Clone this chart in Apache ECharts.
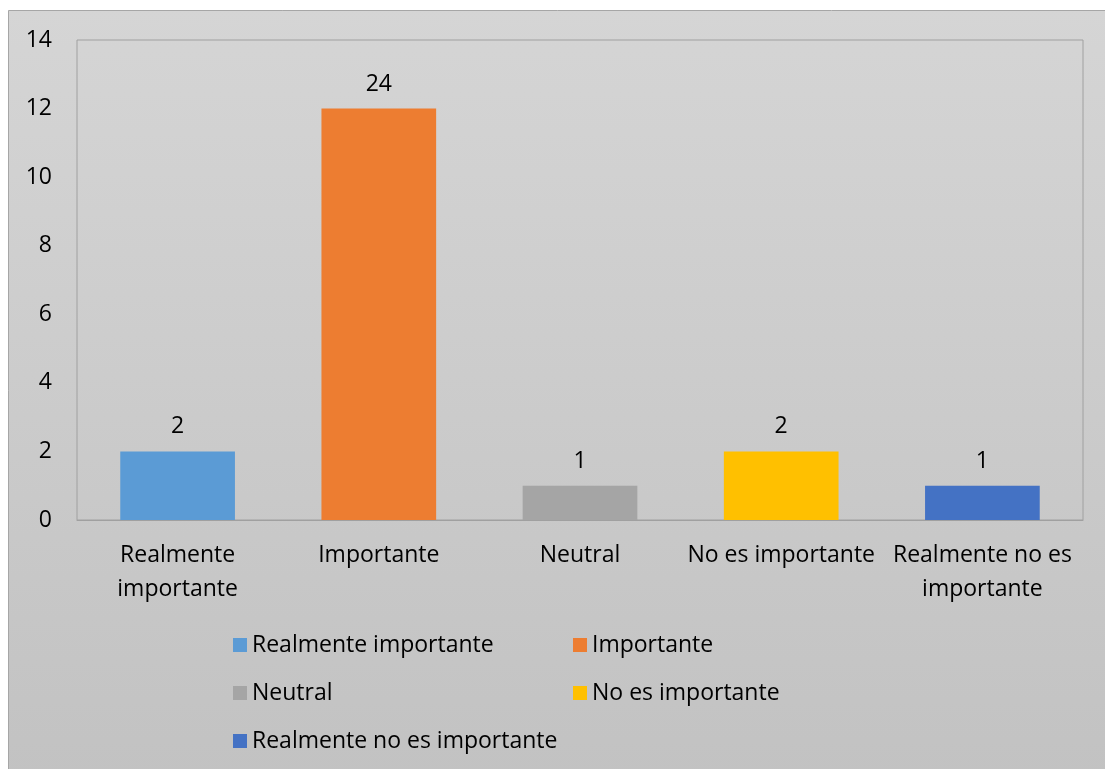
<!DOCTYPE html>
<html>
<head>
<meta charset="utf-8">
<script src="https://cdn.jsdelivr.net/npm/echarts@6/dist/echarts.min.js"></script>
<style>
html,body{margin:0;padding:0;background:#fff;}
#chart{width:1105px;height:769px;}
</style>
</head>
<body>
<div id="chart"></div>
<script>
var categories = ['Realmente importante', 'Importante', 'Neutral', 'No es importante', 'Realmente no es importante'];
var tickLabels = ['Realmente\nimportante', 'Importante', 'Neutral', 'No es importante', 'Realmente no es\nimportante'];
var values = [2, 12, 1, 2, 1];
var dataLabels = ['2', '24', '1', '2', '1'];
var colors = ['#5b9bd5', '#ed7d31', '#a5a5a5', '#ffc000', '#4472c4'];
var yTicks = [0, 14, 2];

var FONT = '"Open Sans", sans-serif';
var TXT = '#000';
var FS = 23;

var series = categories.map(function (name, i) {
  return {
    name: name,
    type: 'bar',
    stack: 'all',
    barWidth: '57%',
    itemStyle: { color: colors[i] },
    label: {
      show: true,
      position: 'top',
      distance: 13,
      fontFamily: FONT,
      fontSize: FS,
      color: TXT,
      formatter: function () { return dataLabels[i]; }
    },
    data: categories.map(function (c, j) { return j === i ? values[i] : '-'; })
  };
});

var chart = echarts.init(document.getElementById('chart'));
chart.setOption({
  animation: false,
  backgroundColor: '#ffffff',
  graphic: [{
    type: 'rect',
    z: -10,
    shape: { x: 8.5, y: 10.5, width: 1110, height: 770 },
    style: {
      fill: new echarts.graphic.LinearGradient(0, 0, 0, 1, [
        { offset: 0, color: '#d5d5d5' },
        { offset: 1, color: '#c2c2c2' }
      ]),
      stroke: '#a6a6a6',
      lineWidth: 1
    }
  }],
  grid: {
    left: 77, top: 40, right: 22, bottom: 249,
    show: true,
    borderColor: '#a0a0a0',
    borderWidth: 1,
    backgroundColor: 'transparent'
  },
  legend: [{
    orient: 'vertical',
    left: 228, top: 628,
    itemWidth: 14, itemHeight: 14,
    itemGap: 24,
    icon: 'rect',
    data: [categories[0], categories[2], categories[4]],
    textStyle: { fontFamily: FONT, fontSize: FS, color: TXT, lineHeight: 24 }
  }, {
    orient: 'vertical',
    left: 568, top: 628,
    itemWidth: 14, itemHeight: 14,
    itemGap: 24,
    icon: 'rect',
    data: [categories[1], categories[3]],
    textStyle: { fontFamily: FONT, fontSize: FS, color: TXT, lineHeight: 24 }
  }],
  xAxis: {
    type: 'category',
    data: categories,
    axisLine: { show: true, lineStyle: { color: '#a0a0a0', width: 1 } },
    axisTick: { show: false },
    axisLabel: {
      margin: 18,
      fontFamily: FONT,
      fontSize: FS,
      color: TXT,
      lineHeight: 34,
      interval: 0,
      formatter: function (v, idx) { return tickLabels[idx]; }
    }
  },
  yAxis: {
    type: 'value',
    min: yTicks[0], max: yTicks[1], interval: yTicks[2],
    splitLine: { show: false },
    axisLine: { show: false },
    axisTick: { show: false },
    axisLabel: { margin: 25, fontFamily: FONT, fontSize: FS, color: TXT }
  },
  series: series
});
</script>
</body>
</html>
